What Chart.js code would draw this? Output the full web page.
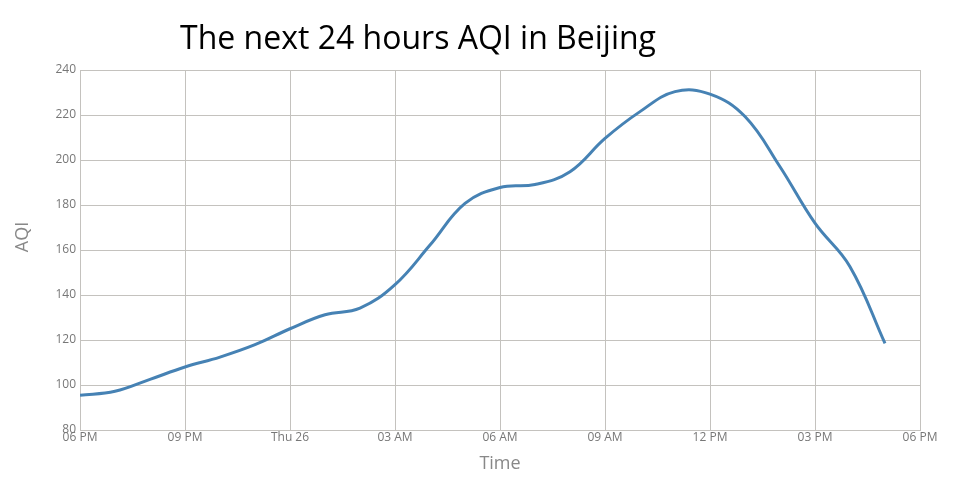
<!DOCTYPE html>
<html>
<head>
<meta charset="utf-8">
<script src="https://cdn.jsdelivr.net/npm/chart.js@4"></script>
<style>
  html, body { margin: 0; padding: 0; background: #fff; }
  #wrap { width: 960px; height: 500px; position: relative; }
</style>
</head>
<body>
<div id="wrap"><canvas id="chart-aqi"></canvas></div>
<script>
// hours from 06 PM, one reading per hour
var hours = [0, 1, 2, 3, 4, 5, 6, 7, 8, 9, 10, 11, 12, 13, 14, 15, 16, 17, 18, 19, 20, 21, 22, 23];
var aqi = [95.4, 97.2, 102.5, 108, 112.4, 117.9, 125, 131.2, 134.2, 144.6, 162.2, 180.7, 187.8, 189.1, 194.8, 209.6, 221.5, 230.4, 229.3, 219.3, 197, 171.9, 152.6, 118.5];
var tickLabels = ["06 PM", "09 PM", "Thu 26", "03 AM", "06 AM", "09 AM", "12 PM", "03 PM", "06 PM"];
var chartTitle = "The next 24 hours AQI in Beijing";
var yTitle = "AQI";

var gridColor = "#c4c2be";

// title + y axis label drawn by hand so they sit where the original has them
var titlePlugin = {
    id: "aqiTitle",
    afterDraw: function(chart) {
        var ctx = chart.ctx;
        ctx.save();
        ctx.font = "32px 'Open Sans'";
        ctx.fillStyle = "#000";
        ctx.textAlign = "center";
        ctx.textBaseline = "middle";
        ctx.fillText(chartTitle, 418, 40);

        ctx.font = "18px 'Open Sans'";
        ctx.fillStyle = "#888";
        ctx.translate(23, 237);
        ctx.rotate(-Math.PI / 2);
        ctx.fillText(yTitle, 0, 0);
        ctx.restore();
    }
};

var chart = new Chart(document.getElementById("chart-aqi"), {
    type: "line",
    data: {
        datasets: [{
            label: "AQI",
            data: hours.map(function(h, i) { return { x: h, y: aqi[i] }; }),
            borderColor: "#4682b4",
            borderWidth: 3,
            pointRadius: 0,
            tension: 0.4,
            fill: false
        }]
    },
    options: {
        responsive: true,
        maintainAspectRatio: false,
        animation: false,
        layout: { padding: { top: 70, right: 40, left: 0, bottom: 0 } },
        plugins: {
            legend: { display: false },
            tooltip: { enabled: false }
        },
        scales: {
            x: {
                type: "linear",
                min: 0,
                max: 24,
                afterFit: function(s) { s.height = 70; },
                afterBuildTicks: function(s) {
                    s.ticks = tickLabels.map(function(t, i) { return { value: i * 3 }; });
                },
                ticks: {
                    color: "#777",
                    font: { family: "'Open Sans'", size: 12 },
                    padding: 0,
                    maxRotation: 0,
                    autoSkip: false,
                    callback: function(v) { return tickLabels[v / 3]; }
                },
                grid: { color: gridColor, drawTicks: false, lineWidth: 1 },
                border: { color: gridColor },
                title: {
                    display: true,
                    text: "Time",
                    color: "#888",
                    font: { family: "'Open Sans'", size: 18 },
                    padding: { top: 0, bottom: 25 }
                }
            },
            y: {
                min: 80,
                max: 240,
                afterFit: function(s) { s.width = 80; },
                ticks: {
                    stepSize: 20,
                    color: "#777",
                    font: { family: "'Open Sans'", size: 12 },
                    padding: 4
                },
                grid: { color: gridColor, drawTicks: false, lineWidth: 1 },
                border: { color: gridColor }
            }
        }
    },
    plugins: [titlePlugin]
});
</script>
</body>
</html>
